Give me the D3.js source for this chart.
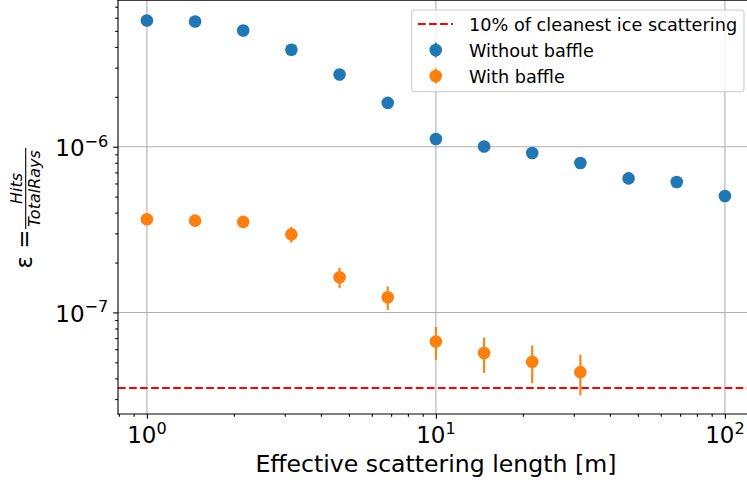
<!DOCTYPE html>
<html>
<head>
<meta charset="utf-8">
<script src="https://cdn.jsdelivr.net/npm/d3@7"></script>
<style>
  html, body { margin: 0; padding: 0; background: #ffffff; }
  svg { display: block; font-family: "DejaVu Sans", sans-serif; }
</style>
</head>
<body>
<svg id="chart" width="747" height="485"></svg>
<script>
// Effective scattering length [m] (log-spaced sample points)
const scatterLengths = [1, 1.468, 2.154, 3.162, 4.642, 6.813, 10, 14.68, 21.54, 31.62, 46.42, 68.13, 100];

// Hit fraction without baffle, with its uncertainty
const withoutBaffle    = [5.78e-6, 5.70e-6, 5.03e-6, 3.85e-6, 2.73e-6, 1.84e-6, 1.113e-6, 1.004e-6, 0.916e-6, 0.797e-6, 0.644e-6, 0.612e-6, 0.504e-6];
const withoutBaffleErr = [0.09e-6, 0.09e-6, 0.08e-6, 0.07e-6, 0.06e-6, 0.05e-6, 0.04e-6, 0.04e-6, 0.035e-6, 0.03e-6, 0.03e-6, 0.03e-6, 0.025e-6];

// Hit fraction with baffle (first ten lengths only), with its uncertainty
const withBaffle    = [3.65e-7, 3.58e-7, 3.52e-7, 2.96e-7, 1.63e-7, 1.235e-7, 6.67e-8, 5.69e-8, 5.03e-8, 4.36e-8];
const withBaffleErr = [0.15e-7, 0.17e-7, 0.25e-7, 0.32e-7, 0.23e-7, 0.2e-7, 1.5e-8, 1.37e-8, 1.29e-8, 1.2e-8];

// Reference level: 10% of cleanest ice scattering
const cleanIceLevel = 3.5e-8;

// Axis ticks
const xMajorTicks = [1, 10, 100];
const xMajorExp   = ["0", "1", "2"];
const yMajorTicks = [1e-7, 1e-6];
const yMajorExp   = ["\u22127", "\u22126"];

const legendLabels = ["10% of cleanest ice scattering", "Without baffle", "With baffle"];

const BLUE = "#1f77b4", ORANGE = "#ff7f0e", RED = "#ff0000";

const svg = d3.select("#chart");
const pL = 118, pR = 753.8, pT = 0, pB = 414;

const x = d3.scaleLog().domain([Math.pow(10, -0.1), Math.pow(10, 2.1)]).range([pL, pR]);
const y = d3.scaleLog().domain([Math.pow(10, -7.613), Math.pow(10, -5.1145)]).range([pB, pT]);

// minor tick values inside each domain
function minorTicks(scale, decades) {
  const [d0, d1] = scale.domain();
  const out = [];
  decades.forEach(p => {
    for (let k = 2; k <= 9; k++) {
      const v = k * Math.pow(10, p);
      if (v >= d0 && v <= d1) out.push(v);
    }
  });
  return out;
}
const xMinor = minorTicks(x, [-1, 0, 1, 2]);
const yMinor = minorTicks(y, [-8, -7, -6, -5]);

svg.append("defs").append("clipPath").attr("id", "plotclip")
  .append("rect").attr("x", pL).attr("y", pT).attr("width", pR - pL).attr("height", pB - pT);

// grid
const grid = svg.append("g").attr("stroke", "#b0b0b0").attr("stroke-width", 1.1);
grid.selectAll("line.gx").data(xMajorTicks).join("line").attr("class", "gx")
  .attr("x1", d => x(d)).attr("x2", d => x(d)).attr("y1", pT).attr("y2", pB);
grid.selectAll("line.gy").data(yMajorTicks).join("line").attr("class", "gy")
  .attr("x1", pL).attr("x2", pR).attr("y1", d => y(d)).attr("y2", d => y(d));

// axes (ticks only; labels are drawn with superscripts below)
const tickLen = 4.86, minorLen = 2.78;
function styleAxis(g) {
  g.select(".domain").remove();
  g.selectAll(".tick line").attr("stroke", "#000").attr("stroke-width", 1.1);
  g.selectAll(".tick text").remove();
}
svg.append("g").attr("transform", `translate(0,${pB})`)
  .call(d3.axisBottom(x).tickValues(xMajorTicks).tickSize(tickLen).tickFormat(""))
  .call(styleAxis);
svg.append("g").attr("transform", `translate(0,${pB})`)
  .call(d3.axisBottom(x).tickValues(xMinor).tickSize(minorLen).tickFormat(""))
  .call(styleAxis);
svg.append("g").attr("transform", `translate(${pL},0)`)
  .call(d3.axisLeft(y).tickValues(yMajorTicks).tickSize(tickLen).tickFormat(""))
  .call(styleAxis);
svg.append("g").attr("transform", `translate(${pL},0)`)
  .call(d3.axisLeft(y).tickValues(yMinor).tickSize(minorLen).tickFormat(""))
  .call(styleAxis);

// tick labels 10^n
const xl = svg.append("g").attr("font-size", 23).attr("fill", "#000");
xMajorTicks.forEach((v, i) => {
  const t = xl.append("text").attr("x", x(v)).attr("y", 443.3).attr("text-anchor", "middle");
  t.append("tspan").text("10");
  t.append("tspan").attr("dy", -9.3).attr("font-size", 16.1).text(xMajorExp[i]);
});
const yl = svg.append("g").attr("font-size", 23).attr("fill", "#000");
yMajorTicks.forEach((v, i) => {
  const t = yl.append("text").attr("x", pL - tickLen - 4.86).attr("y", y(v) + 9.3).attr("text-anchor", "end");
  t.append("tspan").text("10");
  t.append("tspan").attr("dy", -9.3).attr("font-size", 16.1).text(yMajorExp[i]);
});

// plot content
const plot = svg.append("g").attr("clip-path", "url(#plotclip)");

plot.append("line")
  .attr("x1", pL).attr("x2", pR)
  .attr("y1", y(cleanIceLevel)).attr("y2", y(cleanIceLevel))
  .attr("stroke", RED).attr("stroke-width", 2.08).attr("stroke-dasharray", "7.7,3.33");

function series(vals, errs, color) {
  const g = plot.append("g");
  const pts = vals.map((v, i) => ({ x: scatterLengths[i], v: v, e: errs[i] }));
  g.selectAll("line").data(pts).join("line")
    .attr("x1", d => x(d.x)).attr("x2", d => x(d.x))
    .attr("y1", d => y(d.v + d.e)).attr("y2", d => y(d.v - d.e))
    .attr("stroke", color).attr("stroke-width", 2.08);
  g.selectAll("circle").data(pts).join("circle")
    .attr("cx", d => x(d.x)).attr("cy", d => y(d.v)).attr("r", 6.3)
    .attr("fill", color);
}
series(withoutBaffle, withoutBaffleErr, BLUE);
series(withBaffle, withBaffleErr, ORANGE);

// spines
const sp = svg.append("g").attr("stroke", "#000").attr("stroke-width", 1.1).attr("fill", "none");
sp.append("line").attr("x1", pL).attr("x2", pL).attr("y1", pT).attr("y2", pB + 0.55);
sp.append("line").attr("x1", pL - 0.55).attr("x2", pR).attr("y1", pB).attr("y2", pB);
sp.append("line").attr("x1", pL - 0.55).attr("x2", pR).attr("y1", 0.3).attr("y2", 0.3);

// axis label x
svg.append("text").attr("x", (pL + pR) / 2).attr("y", 472.3)
  .attr("text-anchor", "middle").attr("font-size", 23.6).attr("fill", "#000")
  .text("Effective scattering length [m]");

// axis label y: epsilon = Hits / TotalRays
const ylab = svg.append("g").attr("transform", "rotate(-90)").attr("fill", "#000");
ylab.append("text").attr("x", -268.5).attr("y", 32).attr("font-size", 23).text("\u03b5 =");
ylab.append("line").attr("x1", -229).attr("x2", -148).attr("y1", 25.7).attr("y2", 25.7)
  .attr("stroke", "#000").attr("stroke-width", 1.1);
ylab.append("text").attr("x", -188.5).attr("y", 21.5).attr("text-anchor", "middle")
  .attr("font-size", 16).attr("font-style", "italic").text("Hits");
ylab.append("text").attr("x", -188.5).attr("y", 39.5).attr("text-anchor", "middle")
  .attr("font-size", 16).attr("font-style", "italic").text("TotalRays");

// legend
const lg = svg.append("g");
lg.append("rect").attr("x", 411.7).attr("y", 10).attr("width", 332.3).attr("height", 81.7)
  .attr("rx", 3.5).attr("fill", "#fff").attr("fill-opacity", 0.8)
  .attr("stroke", "#cccccc").attr("stroke-width", 1.1);
const rowY = [24, 50, 76];
lg.append("line").attr("x1", 418).attr("x2", 453).attr("y1", rowY[0]).attr("y2", rowY[0])
  .attr("stroke", RED).attr("stroke-width", 2.08).attr("stroke-dasharray", "7.7,3.33");
[[BLUE, rowY[1]], [ORANGE, rowY[2]]].forEach(([c, cy]) => {
  lg.append("line").attr("x1", 435.7).attr("x2", 435.7).attr("y1", cy - 7.5).attr("y2", cy + 7.5)
    .attr("stroke", c).attr("stroke-width", 2.08);
  lg.append("circle").attr("cx", 435.7).attr("cy", cy).attr("r", 6.3).attr("fill", c);
});
lg.selectAll("text").data(legendLabels).join("text")
  .attr("x", 469).attr("y", (d, i) => rowY[i] + 6.6)
  .attr("font-size", 17.7).attr("fill", "#000").text(d => d);
</script>
</body>
</html>
